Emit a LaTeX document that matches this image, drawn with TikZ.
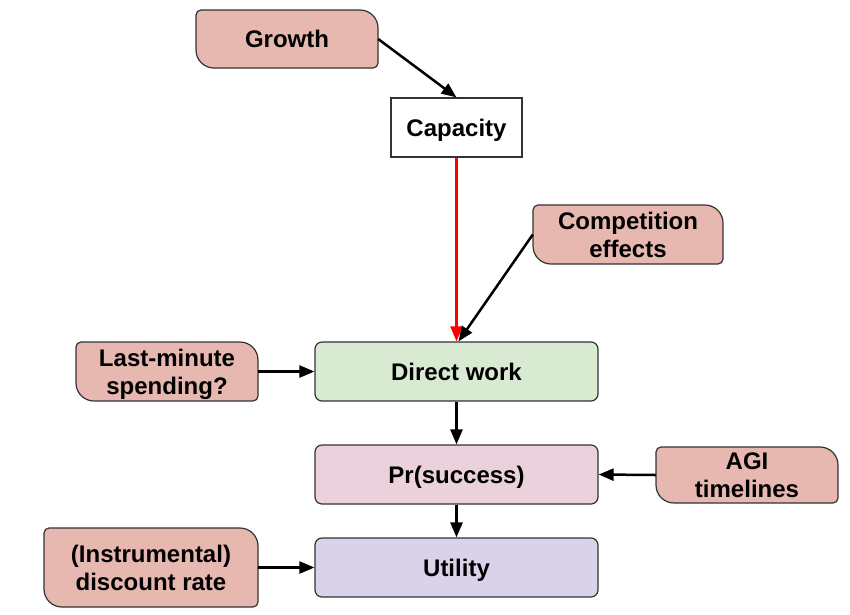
\documentclass[tikz,border=0pt]{standalone}
\usepackage{fontspec}
\setmainfont{Liberation Sans}
\usetikzlibrary{arrows.meta,backgrounds}
\definecolor{salmon}{HTML}{E6B8AF}
\definecolor{edgegrey}{HTML}{333333}
\definecolor{greenfill}{HTML}{D9EAD3}
\definecolor{pinkfill}{HTML}{EAD1DC}
\definecolor{purplefill}{HTML}{D9D2E9}
% #1 node name, #2 width, #3 height
\newcommand{\leafshape}[3]{%
  \begin{scope}[shift={(#1.center)}, x=1pt, y=1pt]
  \path[draw=edgegrey, fill=salmon, line width=1.2pt]
    ({-#2/2+5}, {#3/2}) -- ({#2/2-18}, {#3/2})
    arc[start angle=90, end angle=0, radius=18]
    -- ({#2/2}, {-#3/2+5})
    arc[start angle=0, end angle=-90, radius=5]
    -- ({-#2/2+18}, {-#3/2})
    arc[start angle=-90, end angle=-180, radius=18]
    -- ({-#2/2}, {#3/2-5})
    arc[start angle=180, end angle=90, radius=5] -- cycle;
  \end{scope}}
\begin{document}
\begin{tikzpicture}[x=1pt,y=-1pt,
  txt/.style={font=\fontsize{24}{28}\selectfont\bfseries, align=center, inner sep=0pt, text depth=0pt},
  box/.style={txt, draw=edgegrey, line width=1.2pt, rounded corners=7pt, minimum height=59pt, minimum width=283pt},
  leaf/.style={txt, minimum height=59pt},
  arr/.style={line width=2.5pt, -{Triangle[length=15pt,width=12pt]}},
  redarr/.style={line width=2.2pt, red, -{Triangle[length=15pt,width=12pt]}}]
\useasboundingbox (0,0) rectangle (850,614);

\node[leaf, minimum width=182pt, minimum height=58pt] (growth) at (287,39) {Growth};
\node[txt, draw=edgegrey, line width=1.2pt, minimum width=131pt, minimum height=59pt] (capacity) at (456.5,127.5) {Capacity};
\node[leaf, minimum width=190pt] (competition) at (628,234.5) {Competition\\effects};
\node[leaf, minimum width=182pt] (lastminute) at (167,371.5) {Last-minute\\spending?};
\node[box, fill=greenfill] (direct) at (456.5,371.5) {Direct work};
\node[box, fill=pinkfill] (pr) at (456.5,474.5) {Pr(success)};
\node[leaf, minimum width=182pt, minimum height=56pt] (agi) at (747,475) {AGI\\timelines};
\node[box, fill=purplefill] (utility) at (456.5,567.5) {Utility};
\node[leaf, minimum width=214pt, minimum height=79pt] (discount) at (151,567.5) {(Instrumental)\\discount rate};

\begin{scope}[on background layer]
  \leafshape{growth}{182}{58}
  \leafshape{competition}{190}{59}
  \leafshape{lastminute}{182}{59}
  \leafshape{agi}{182}{56}
  \leafshape{discount}{214}{79}
\end{scope}

\draw[arr] (growth.east) -- (capacity.north);
\draw[redarr] (capacity.south) -- (direct.north);
\draw[arr] (competition.west) -- ([xshift=2pt]direct.north);
\draw[arr] (lastminute.east) -- (direct.west);
\draw[arr] (direct.south) -- (pr.north);
\draw[arr] (agi.west) -- (pr.east);
\draw[arr] (pr.south) -- (utility.north);
\draw[arr] (discount.east) -- (utility.west);
\end{tikzpicture}
\end{document}
